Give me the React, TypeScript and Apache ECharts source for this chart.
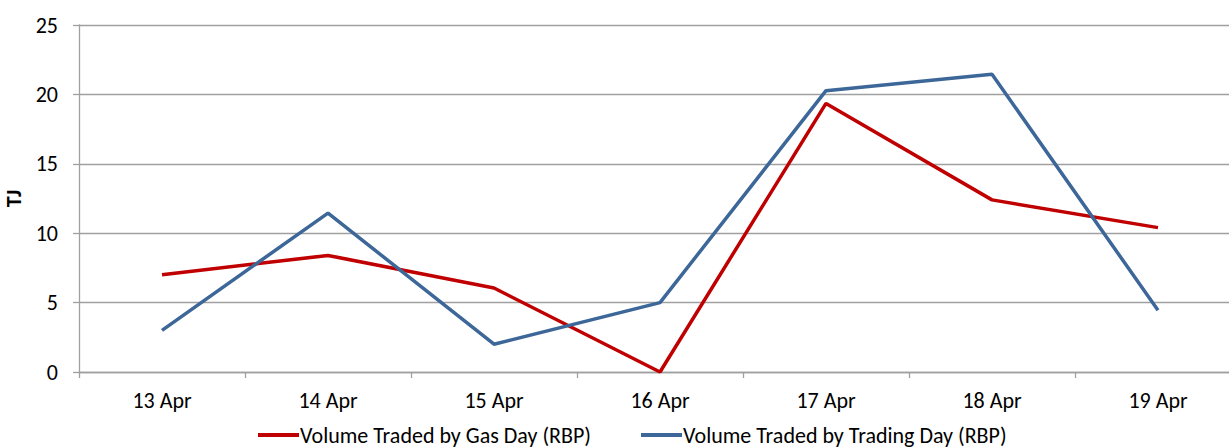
import React, { useEffect, useRef } from "react";
import * as echarts from "echarts";

const categories = ["13 Apr", "14 Apr", "15 Apr", "16 Apr", "17 Apr", "18 Apr", "19 Apr"];
const gasDay = [7.0, 8.4, 6.05, 0.0, 19.35, 12.4, 10.4];
const tradingDay = [3.0, 11.45, 2.0, 5.0, 20.27, 21.45, 4.45];
const seriesNames = ["Volume Traded by Gas Day (RBP)", "Volume Traded by Trading Day (RBP)"];
const yTicks = { min: 0, max: 25, interval: 5 };

const FONT = "Carlito, 'Liberation Sans', sans-serif";

export default function App() {
  const ref = useRef<HTMLDivElement>(null);
  useEffect(() => {
    const chart = echarts.init(ref.current!, null, { renderer: "svg" });
    chart.setOption({
      animation: false,
      backgroundColor: "#ffffff",
      grid: {
        left: 79,
        top: 25,
        height: 347,
        width: 1162,
        containLabel: false,
        outerBoundsMode: "none",
      },
      legend: {
        left: 258,
        top: 424,
        padding: 0,
        itemGap: 50,
        itemWidth: 41,
        itemHeight: 4,
        icon: "rect",
        textStyle: { fontFamily: FONT, fontSize: 22, color: "#000", padding: [0, 0, 0, -4] },
        data: seriesNames,
      },
      xAxis: {
        type: "category",
        data: categories,
        boundaryGap: true,
        axisLine: { lineStyle: { color: "#a0a0a0", width: 1.3 } },
        axisTick: { show: true, length: 6, lineStyle: { color: "#a0a0a0", width: 1.3 } },
        axisLabel: { fontFamily: FONT, fontSize: 22, color: "#000", margin: 17 },
      },
      yAxis: {
        type: "value",
        min: yTicks.min,
        max: yTicks.max,
        interval: yTicks.interval,
        name: "TJ",
        nameLocation: "middle",
        nameRotate: 90,
        nameGap: 47,
        nameTextStyle: { fontFamily: FONT, fontSize: 22, fontWeight: "bold", color: "#000" },
        axisLine: { show: true, lineStyle: { color: "#a0a0a0", width: 1.3 } },
        axisTick: { show: true, length: 6, lineStyle: { color: "#a0a0a0", width: 1.3 } },
        axisLabel: { fontFamily: FONT, fontSize: 22, color: "#000", margin: 21 },
        splitLine: { show: true, lineStyle: { color: "#a0a0a0", width: 1.3 } },
      },
      series: [
        {
          name: seriesNames[0],
          type: "line",
          data: gasDay,
          symbol: "none",
          lineStyle: { color: "#c00000", width: 3.5 },
          itemStyle: { color: "#c00000" },
        },
        {
          name: seriesNames[1],
          type: "line",
          data: tradingDay,
          symbol: "none",
          lineStyle: { color: "#3c6798", width: 3.5 },
          itemStyle: { color: "#3c6798" },
        },
      ],
    });
    return () => chart.dispose();
  }, []);
  return (
    <div
      ref={ref}
      style={{ position: "absolute", left: 0, top: 0, width: 1229, height: 448 }}
    />
  );
}
